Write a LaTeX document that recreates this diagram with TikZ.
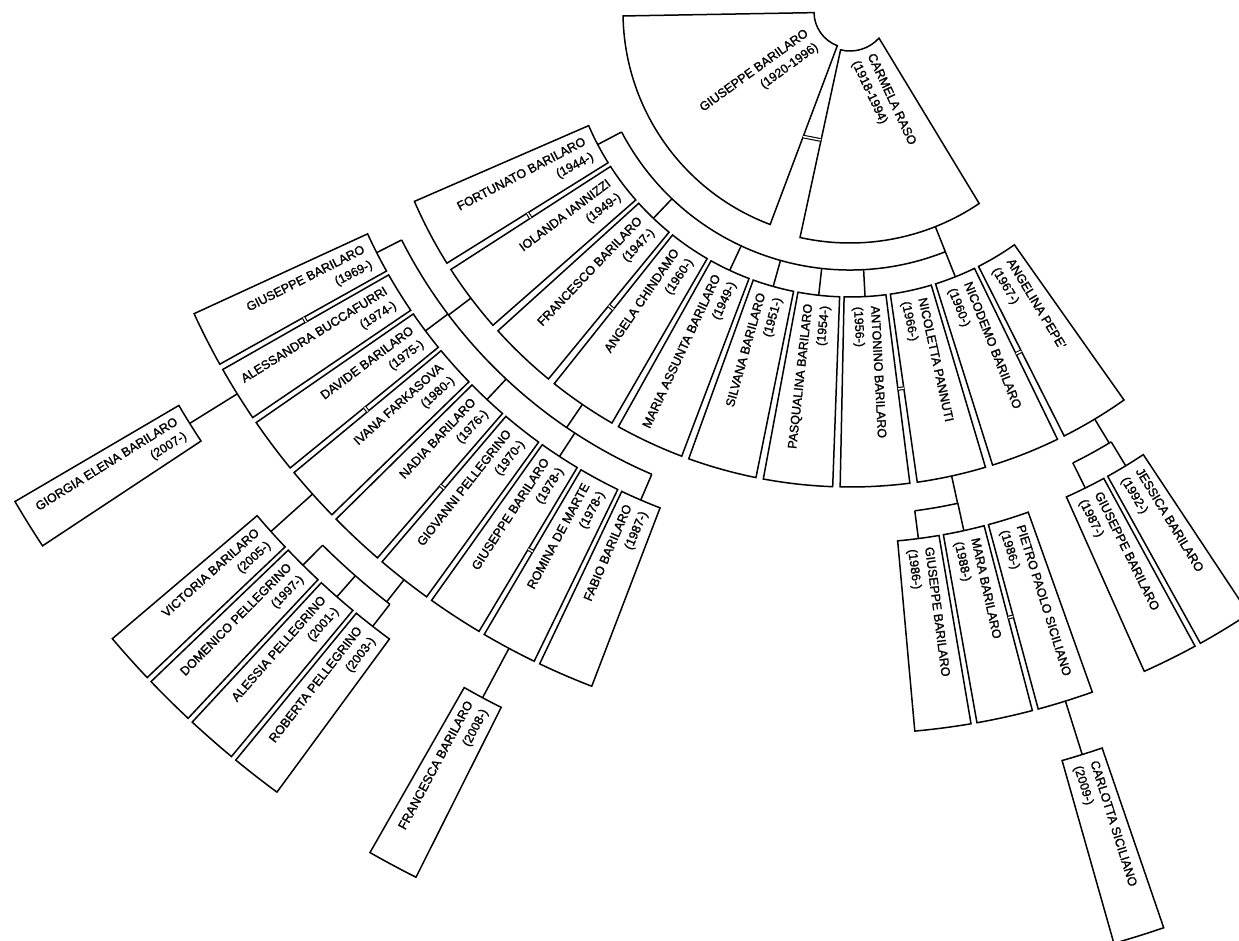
\documentclass[tikz,border=0pt]{standalone}
\usepackage{fontspec}
\setmainfont{Liberation Sans}[UprightFeatures={FakeBold=1.5}]
\usetikzlibrary{calc}

\begin{document}
\begin{tikzpicture}[x=1pt, y=1pt, line width=1.5pt,
  font=\fontsize{12.5}{17}\selectfont,
  lbl/.style={inner sep=0pt},
  tie/.style={double, double distance=1.5pt, line width=1.1pt}]
\clip (0,0) rectangle (1239,-940);
\coordinate (O) at (850,-12);

% the couple at the root
\draw ($(O)+(181:36)$) -- ($(O)+(181:227)$) arc[start angle=181, end angle=249.4, radius=227]
  -- ($(O)+(249.4:36)$) arc[start angle=249.4, end angle=181, radius=36] -- cycle;
\draw ($(O)+(256:39)$) arc[start angle=256, end angle=318, radius=39]
  -- ($(O)+(304:231)$) arc[start angle=304, end angle=257.5, radius=231] -- cycle;
\node[lbl, anchor=east, align=right, rotate=36] (giuseppe) at ($(O)+(216:46)$) {GIUSEPPE BARILARO\\(1920-1996)};
\node[lbl, anchor=west, align=left, rotate=-65] (carmela) at ($(O)+(285:47)$) {CARMELA RASO\\(1918-1994)};
\draw[tie] (803,-136.5) -- (820.7,-140);

% one ring sector per person
\foreach \s/\w/\ri/\ro/\nm/\yr/\id in {
  203.50/8.43/285/475/FORTUNATO BARILARO/(1944-)/fortunato,
  212.83/8.43/285/475/IOLANDA IANNIZZI/(1949-)/iolanda,
  222.16/8.43/285/475/FRANCESCO BARILARO/(1947-)/francesco,
  231.49/8.43/285/475/ANGELA CHINDAMO/(1960-)/angela,
  240.82/8.43/285/475/MARIA ASSUNTA BARILARO/(1949-)/mariaassunta,
  250.15/8.43/285/475/SILVANA BARILARO/(1951-)/silvana,
  259.48/8.43/285/475/PASQUALINA BARILARO/(1954-)/pasqualina,
  268.81/8.43/285/475/ANTONINO BARILARO/(1956-)/antonino,
  278.14/8.43/285/475/NICOLETTA PANNUTI/(1966-)/nicoletta,
  287.47/8.43/285/475/NICODEMO BARILARO/(1960-)/nicodemo,
  296.80/8.43/285/475/ANGELINA PEPE'/(1967-)/angelina,
  204.70/4.5/531/722/GIUSEPPE BARILARO/(1969-)/giuseppeA,
  209.68/4.5/531/722/ALESSANDRA BUCCAFURRI/(1974-)/alessandra,
  214.66/4.5/531/722/DAVIDE BARILARO/(1975-)/davide,
  219.64/4.5/531/722/IVANA FARKASOVA/(1980-)/ivana,
  224.62/4.5/531/722/NADIA BARILARO/(1976-)/nadia,
  229.60/4.5/531/722/GIOVANNI PELLEGRINO/(1970-)/giovanni,
  234.58/4.5/531/722/GIUSEPPE BARILARO/(1978-)/giuseppeB,
  239.56/4.5/531/722/ROMINA DE MARTE/(1978-)/romina,
  244.54/4.5/531/722/FABIO BARILARO/(1987-)/fabio,
  275.15/4.5/531/722/GIUSEPPE BARILARO/(1986-)/giuseppeC,
  280.13/4.5/531/722/MARA BARILARO/(1988-)/mara,
  285.11/4.5/531/722/PIETRO PAOLO SICILIANO/(1986-)/pietro,
  294.05/4.5/531/722/GIUSEPPE BARILARO/(1987-)/giuseppeD,
  299.03/4.5/531/722/JESSICA BARILARO/(1992-)/jessica,
  210.38/3.09/778/968/GIORGIA ELENA BARILARO/(2007-)/giorgia,
  220.35/3.09/778/968/VICTORIA BARILARO/(2005-)/victoria,
  223.77/3.09/778/968/DOMENICO PELLEGRINO/(1997-)/domenico,
  227.19/3.09/778/968/ALESSIA PELLEGRINO/(2001-)/alessia,
  230.61/3.09/778/968/ROBERTA PELLEGRINO/(2003-)/roberta,
  240.27/3.09/778/968/FRANCESCA BARILARO/(2008-)/francesca,
  285.82/3.09/778/968/CARLOTTA SICILIANO/(2009-)/carlotta}{
  \draw ($(O)+(\s:\ri)$) arc[start angle=\s, end angle=\s+\w, radius=\ri]
    -- ($(O)+(\s+\w:\ro)$) arc[start angle=\s+\w, end angle=\s, radius=\ro] -- cycle;
  \pgfmathsetmacro\m{\s+\w/2}
  \coordinate (\id-in) at ($(O)+(\m:\ri)$);
  \coordinate (\id-out) at ($(O)+(\m:\ro)$);
  \ifdim\m pt<270pt
    \node[lbl, anchor=east, align=right, rotate=\m+180] (\id) at ($(O)+(\m:\ri+9)$) {\nm\\\yr};
  \else
    \node[lbl, anchor=west, align=left, rotate=\m] (\id) at ($(O)+(\m:\ri+9)$) {\nm\\\yr};
  \fi
}

% marriages
\foreach \p/\rr/\g in {211.93/380/0.9, 230.59/380/0.9, 277.24/380/0.9, 295.9/380/0.9,
  209.2/626/0.48, 219.16/626/0.48, 229.12/626/0.48, 239.08/626/0.48, 284.63/626/0.48}
  \draw[tie] ($(O)+(\p:\rr)$) -- ($(O)+(\p+\g:\rr)$);

% children of the root couple
\draw ($(O)!258pt!(fortunato-in)$) arc[start angle=207.715, end angle=291.685, radius=258];
\foreach \q in {fortunato,francesco,mariaassunta,silvana,pasqualina,antonino}
  \draw ($(O)!258pt!(\q-in)$) -- (\q-in);
\draw ($(O)!231pt!(nicodemo-in)$) -- (nicodemo-in);

% grandchildren
\draw ($(O)!503pt!(giuseppeA-in)$) arc[start angle=206.95, end angle=246.79, radius=503];
\draw ($(O)!503pt!(giuseppeC-in)$) arc[start angle=277.4, end angle=282.38, radius=503];
\draw ($(O)!503pt!(giuseppeD-in)$) arc[start angle=296.3, end angle=301.28, radius=503];
\foreach \q in {giuseppeA,davide,nadia,giuseppeB,fabio,giuseppeC,mara,giuseppeD,jessica}
  \draw ($(O)!503pt!(\q-in)$) -- (\q-in);
\foreach \q in {iolanda,angela,nicoletta,angelina}
  \draw (\q-out) -- ($(O)!503pt!(\q-out)$);

% great-grandchildren
\draw ($(O)!750pt!(domenico-in)$) arc[start angle=225.315, end angle=232.155, radius=750];
\foreach \q in {domenico,alessia,roberta}
  \draw ($(O)!750pt!(\q-in)$) -- (\q-in);
\draw (giovanni-out) -- ($(O)!750pt!(giovanni-out)$);
\foreach \q/\k in {alessandra/giorgia,ivana/victoria,romina/francesca,pietro/carlotta}
  \draw (\q-out) -- (\k-in);
\end{tikzpicture}
\end{document}
